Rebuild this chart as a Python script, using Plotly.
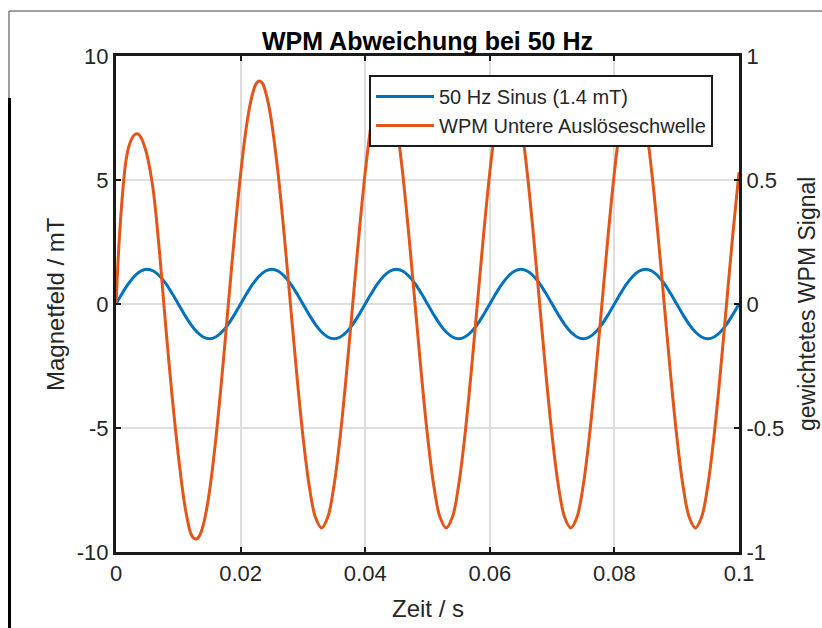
import plotly.graph_objects as go

# ---------------- data ----------------
# time axis, seconds
blue_t = [0.000, 0.001, 0.002, 0.003, 0.004, 0.005, 0.006, 0.007, 0.008, 0.009,
          0.010, 0.011, 0.012, 0.013, 0.014, 0.015, 0.016, 0.017, 0.018, 0.019,
          0.020, 0.021, 0.022, 0.023, 0.024, 0.025, 0.026, 0.027, 0.028, 0.029,
          0.030, 0.031, 0.032, 0.033, 0.034, 0.035, 0.036, 0.037, 0.038, 0.039,
          0.040, 0.041, 0.042, 0.043, 0.044, 0.045, 0.046, 0.047, 0.048, 0.049,
          0.050, 0.051, 0.052, 0.053, 0.054, 0.055, 0.056, 0.057, 0.058, 0.059,
          0.060, 0.061, 0.062, 0.063, 0.064, 0.065, 0.066, 0.067, 0.068, 0.069,
          0.070, 0.071, 0.072, 0.073, 0.074, 0.075, 0.076, 0.077, 0.078, 0.079,
          0.080, 0.081, 0.082, 0.083, 0.084, 0.085, 0.086, 0.087, 0.088, 0.089,
          0.090, 0.091, 0.092, 0.093, 0.094, 0.095, 0.096, 0.097, 0.098, 0.099,
          0.100]
# 50 Hz sine, mT (left axis)
blue_mT = [0.00, 0.43, 0.82, 1.13, 1.33, 1.40, 1.33, 1.13, 0.82, 0.43,
           0.00, -0.43, -0.82, -1.13, -1.33, -1.40, -1.33, -1.13, -0.82, -0.43,
           0.00, 0.43, 0.82, 1.13, 1.33, 1.40, 1.33, 1.13, 0.82, 0.43,
           0.00, -0.43, -0.82, -1.13, -1.33, -1.40, -1.33, -1.13, -0.82, -0.43,
           0.00, 0.43, 0.82, 1.13, 1.33, 1.40, 1.33, 1.13, 0.82, 0.43,
           0.00, -0.43, -0.82, -1.13, -1.33, -1.40, -1.33, -1.13, -0.82, -0.43,
           0.00, 0.43, 0.82, 1.13, 1.33, 1.40, 1.33, 1.13, 0.82, 0.43,
           0.00, -0.43, -0.82, -1.13, -1.33, -1.40, -1.33, -1.13, -0.82, -0.43,
           0.00, 0.43, 0.82, 1.13, 1.33, 1.40, 1.33, 1.13, 0.82, 0.43,
           0.00, -0.43, -0.82, -1.13, -1.33, -1.40, -1.33, -1.13, -0.82, -0.43,
           0.00]

orange_t = [0.0000, 0.0005, 0.0010, 0.0015, 0.0020, 0.0025, 0.0030, 0.0035, 0.0040, 0.0045,
            0.0050, 0.0055, 0.0060, 0.0065, 0.0070, 0.0075, 0.0080, 0.0085, 0.0090, 0.0095,
            0.0100, 0.0105, 0.0110, 0.0115, 0.0120, 0.0125, 0.0130, 0.0135, 0.0140, 0.0145,
            0.0150, 0.0155, 0.0160, 0.0165, 0.0170, 0.0175, 0.0180, 0.0185, 0.0190, 0.0195,
            0.0200, 0.0205, 0.0210, 0.0215, 0.0220, 0.0225, 0.0230, 0.0235, 0.0240, 0.0245,
            0.0250, 0.026, 0.027, 0.028, 0.029,
            0.030, 0.031, 0.032, 0.033, 0.034, 0.035, 0.036, 0.037, 0.038, 0.039,
            0.040, 0.041, 0.042, 0.043, 0.044, 0.045, 0.046, 0.047, 0.048, 0.049,
            0.050, 0.051, 0.052, 0.053, 0.054, 0.055, 0.056, 0.057, 0.058, 0.059,
            0.060, 0.061, 0.062, 0.063, 0.064, 0.065, 0.066, 0.067, 0.068, 0.069,
            0.070, 0.071, 0.072, 0.073, 0.074, 0.075, 0.076, 0.077, 0.078, 0.079,
            0.080, 0.081, 0.082, 0.083, 0.084, 0.085, 0.086, 0.087, 0.088, 0.089,
            0.090, 0.091, 0.092, 0.093, 0.094, 0.095, 0.096, 0.097, 0.098, 0.099,
            0.100]
# weighted WPM signal (right axis)
orange_wpm = [0.000, 0.250, 0.430, 0.560, 0.630, 0.665, 0.683, 0.686, 0.672, 0.642,
              0.598, 0.535, 0.455, 0.340, 0.205, 0.055, -0.095, -0.235, -0.370, -0.495,
              -0.610, -0.715, -0.805, -0.875, -0.925, -0.945, -0.947, -0.930, -0.892, -0.834,
              -0.756, -0.661, -0.550, -0.426, -0.293, -0.153, -0.010, 0.132, 0.271, 0.403,
              0.525, 0.634, 0.727, 0.801, 0.855, 0.889, 0.899, 0.890, 0.856, 0.803,
              0.729, 0.531, 0.279, 0.000, -0.279,
              -0.531, -0.731, -0.859, -0.903, -0.859, -0.731, -0.531, -0.279, 0.000, 0.279,
              0.531, 0.731, 0.859, 0.903, 0.859, 0.731, 0.531, 0.279, 0.000, -0.279,
              -0.531, -0.731, -0.859, -0.903, -0.859, -0.731, -0.531, -0.279, 0.000, 0.279,
              0.531, 0.731, 0.859, 0.903, 0.859, 0.731, 0.531, 0.279, 0.000, -0.279,
              -0.531, -0.731, -0.859, -0.903, -0.859, -0.731, -0.531, -0.279, 0.000, 0.279,
              0.531, 0.731, 0.859, 0.903, 0.859, 0.731, 0.531, 0.279, 0.000, -0.279,
              -0.531, -0.731, -0.859, -0.903, -0.859, -0.731, -0.531, -0.279, 0.000, 0.279,
              0.531]

x_ticks = [0, 0.02, 0.04, 0.06, 0.08, 0.1]
x_ticktext = ["0", "0.02", "0.04", "0.06", "0.08", "0.1"]
y_ticks = [-10, -5, 0, 5, 10]
y_ticktext = ["-10", "-5", "0", "5", "10"]
y2_ticks = [-1, -0.5, 0, 0.5, 1]
y2_ticktext = ["-1", "-0.5", "0", "0.5", "1"]

title_text = "WPM Abweichung bei 50 Hz"
x_label = "Zeit / s"
y_label = "Magnetfeld / mT"
y2_label = "gewichtetes WPM Signal"
name_blue = "50 Hz Sinus (1.4 mT)"
name_orange = "WPM Untere Auslöseschwelle"

# ---------------- styling ----------------
FONT = "Liberation Sans, Arial, Helvetica, sans-serif"
TXT = "#262626"
AX = "#1a1a1a"
W, H = 822, 628
L, R, T, B = 116, 83, 56, 76
pw, ph = W - L - R, H - T - B


def px_x(px):
    return (px - L) / pw


def px_y(py):
    return (H - B - py) / ph


fig = go.Figure()
fig.add_trace(go.Scatter(x=blue_t, y=blue_mT, name=name_blue, mode="lines",
                         line=dict(color="#0072BD", width=3, shape="spline", smoothing=1.0)))
fig.add_trace(go.Scatter(x=orange_t, y=orange_wpm, name=name_orange, mode="lines", yaxis="y2",
                         line=dict(color="#E2561A", width=3, shape="spline", smoothing=1.0)))

axis_common = dict(showline=True, linecolor=AX, linewidth=3, ticks="inside", ticklen=5,
                   tickwidth=2, tickcolor=AX, zeroline=False,
                   tickfont=dict(family=FONT, size=22, color=TXT))

fig.update_layout(
    width=W, height=H,
    margin=dict(l=L, r=R, t=T, b=B, autoexpand=False),
    paper_bgcolor="white", plot_bgcolor="white",
    font=dict(family=FONT, color=TXT),
    title=dict(text="<b>" + title_text + "</b>", x=0.5, xref="paper", xanchor="center",
               y=1 - 41 / H, yref="container", yanchor="middle",
               font=dict(family=FONT, size=25, color="#000000")),
    xaxis=dict(range=[0, 0.1], tickvals=x_ticks, ticktext=x_ticktext, mirror="ticks",
               showgrid=True, gridcolor="#dedede", gridwidth=2, **axis_common),
    yaxis=dict(range=[-10, 10], tickvals=y_ticks, ticktext=y_ticktext, mirror=False,
               showgrid=True, gridcolor="#dedede", gridwidth=2, **axis_common),
    yaxis2=dict(range=[-1, 1], tickvals=y2_ticks, ticktext=y2_ticktext, overlaying="y",
                side="right", showgrid=False, **axis_common),
    showlegend=True,
    legend=dict(x=px_x(369), y=px_y(75), xanchor="left", yanchor="top",
                bgcolor="white", bordercolor="#1a1a1a", borderwidth=2,
                font=dict(family=FONT, size=20, color=TXT), itemwidth=58,
                tracegroupgap=0),
    annotations=[
        dict(text=x_label, x=0.5, y=px_y(608), xref="paper", yref="paper",
             xanchor="center", yanchor="middle", showarrow=False,
             font=dict(family=FONT, size=24, color=TXT)),
        dict(text=y_label, x=px_x(55), y=0.5, xref="paper", yref="paper",
             xanchor="center", yanchor="middle", showarrow=False, textangle=-90,
             font=dict(family=FONT, size=24, color=TXT)),
        dict(text=y2_label, x=px_x(807), y=0.5, xref="paper", yref="paper",
             xanchor="center", yanchor="middle", showarrow=False, textangle=-90,
             font=dict(family=FONT, size=23, color=TXT)),
    ],
    shapes=[
        dict(type="line", xref="paper", yref="paper", x0=px_x(9), x1=px_x(822),
             y0=px_y(11), y1=px_y(11), line=dict(color="#7f7f7f", width=1.5)),
        dict(type="line", xref="paper", yref="paper", x0=px_x(9), x1=px_x(9),
             y0=px_y(11), y1=px_y(98), line=dict(color="#7f7f7f", width=1.5)),
        dict(type="line", xref="paper", yref="paper", x0=px_x(9.5), x1=px_x(9.5),
             y0=px_y(98), y1=px_y(628), line=dict(color="#000000", width=3)),
    ],
)

fig.write_html("out.html")
